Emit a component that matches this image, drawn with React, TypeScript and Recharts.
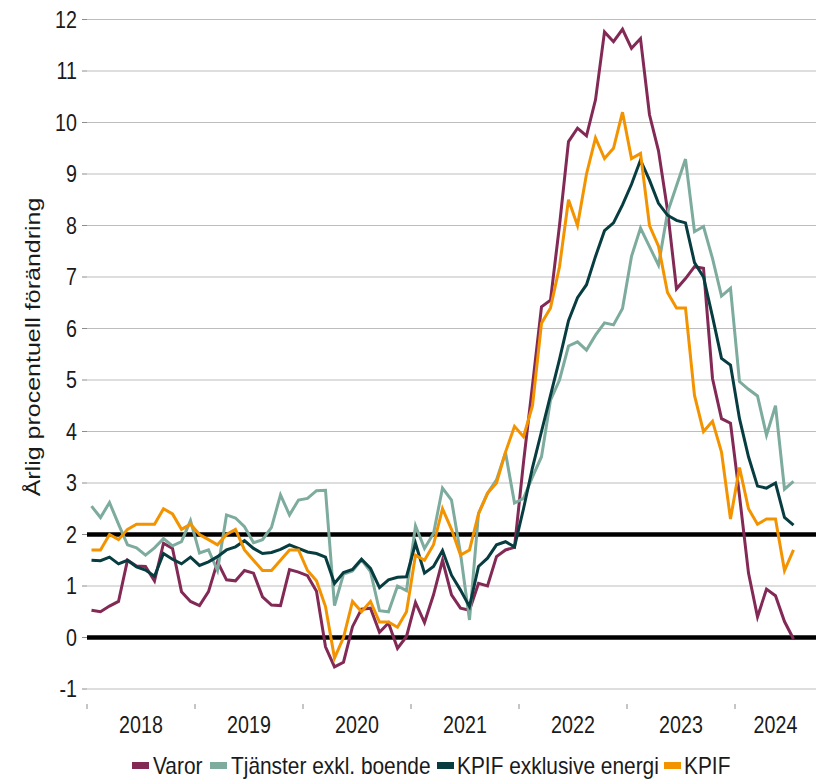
import React from 'react'
import { LineChart, Line, XAxis, YAxis, CartesianGrid, ReferenceLine } from 'recharts'

// monthly, Jan 2018 – Jul 2024, årlig procentuell förändring
const years = ['2018', '2019', '2020', '2021', '2022', '2023', '2024']
const monthNames = ['01', '02', '03', '04', '05', '06', '07', '08', '09', '10', '11', '12']

const varor = [
  0.53, 0.5, 0.61, 0.7, 1.5, 1.39, 1.38, 1.1, 1.83, 1.73, 0.89, 0.7,
  0.62, 0.89, 1.47, 1.12, 1.1, 1.3, 1.25, 0.79, 0.63, 0.62, 1.32, 1.27,
  1.2, 0.9, -0.18, -0.57, -0.48, 0.21, 0.55, 0.57, 0.1, 0.28, -0.21, 0.02,
  0.68, 0.29, 0.83, 1.5, 0.83, 0.57, 0.53, 1.05, 1.0, 1.57, 1.7, 1.75,
  3.4, 4.9, 6.42, 6.55, 8.0, 9.63, 9.89, 9.74, 10.44, 11.76, 11.57, 11.81,
  11.44, 11.63, 10.15, 9.45, 8.3, 6.77, 6.97, 7.2, 7.17, 5.03, 4.25, 4.16,
  2.75, 1.25, 0.4, 0.94, 0.81, 0.31, -0.03,
]

const tjanster = [
  2.55, 2.33, 2.62, 2.2, 1.8, 1.74, 1.6, 1.74, 1.92, 1.78, 1.86, 2.27,
  1.64, 1.7, 1.3, 2.38, 2.32, 2.15, 1.84, 1.9, 2.14, 2.77, 2.38, 2.67,
  2.7, 2.85, 2.86, 0.62, 1.23, 1.29, 1.51, 1.28, 0.52, 0.5, 1.0, 0.91,
  2.17, 1.73, 2.02, 2.9, 2.67, 1.63, 0.34, 2.41, 2.8, 3.06, 3.59, 2.61,
  2.7, 3.12, 3.51, 4.61, 5.0, 5.66, 5.74, 5.58, 5.87, 6.11, 6.07, 6.39,
  7.4, 7.95, 7.59, 7.23, 8.25, 8.77, 9.29, 7.88, 7.98, 7.36, 6.63, 6.78,
  4.97, 4.82, 4.69, 3.93, 4.5, 2.88, 3.03,
]

const kpifXe = [
  1.5, 1.49, 1.56, 1.43, 1.5, 1.37, 1.31, 1.19, 1.63, 1.52, 1.43, 1.56,
  1.4, 1.47, 1.57, 1.7, 1.76, 1.88, 1.73, 1.63, 1.65, 1.71, 1.8, 1.73,
  1.66, 1.63, 1.56, 1.05, 1.26, 1.32, 1.52, 1.34, 0.97, 1.12, 1.17, 1.18,
  1.83, 1.25, 1.38, 1.69, 1.21, 0.92, 0.6, 1.38, 1.54, 1.8, 1.86, 1.76,
  2.5, 3.3, 4.0, 4.7, 5.4, 6.15, 6.6, 6.85, 7.4, 7.9, 8.05, 8.4,
  8.8, 9.27, 8.88, 8.43, 8.2, 8.1, 8.05, 7.28, 7.0, 6.23, 5.42, 5.29,
  4.25, 3.51, 2.94, 2.9, 3.0, 2.33, 2.18,
]

const kpif = [
  1.7, 1.7, 2.0, 1.9, 2.1, 2.2, 2.2, 2.2, 2.5, 2.4, 2.1, 2.2,
  2.0, 1.9, 1.8, 2.0, 2.1, 1.7, 1.5, 1.3, 1.3, 1.5, 1.7, 1.7,
  1.3, 1.1, 0.6, -0.4, 0.0, 0.7, 0.5, 0.7, 0.3, 0.3, 0.2, 0.5,
  1.6, 1.5, 1.8, 2.5, 2.1, 1.6, 1.7, 2.4, 2.8, 3.0, 3.6, 4.1,
  3.9, 4.5, 6.1, 6.4, 7.2, 8.5, 8.0, 9.0, 9.7, 9.3, 9.5, 10.2,
  9.3, 9.4, 8.0, 7.6, 6.7, 6.4, 6.4, 4.7, 4.0, 4.2, 3.6, 2.3,
  3.3, 2.5, 2.2, 2.3, 2.3, 1.3, 1.7,
]

// axis runs to Sep 2024 (81 months)
const months = years.flatMap(y => monthNames.map(m => `${y}-${m}`)).slice(0, 81)

const yTicks = [-1, 0, 1, 2, 3, 4, 5, 6, 7, 8, 9, 10, 11, 12]
const yearBoundaries = [0, 12, 24, 36, 48, 60, 72]
const yearCenters = [6, 18, 30, 42, 54, 66, 76.5]

const series = [
  { key: 'varor', name: 'Varor', color: '#822a55', values: varor },
  { key: 'tjanster', name: 'Tjänster exkl. boende', color: '#7dab9d', values: tjanster },
  { key: 'kpifXe', name: 'KPIF exklusive energi', color: '#073d40', values: kpifXe },
  { key: 'kpif', name: 'KPIF', color: '#f39300', values: kpif },
]

const data = months.map((m, i) => {
  const row: any = { x: i + 0.5, month: m }
  series.forEach(s => { row[s.key] = s.values[i] ?? null })
  return row
})

const FONT = "'Liberation Sans', Arial, sans-serif"
const SX = 0.82

const XTick = ({ x, y, payload }: any) => {
  const k = yearCenters.indexOf(payload.value)
  if (k < 0) {
    return <line x1={x} x2={x} y1={y + 15} y2={y + 20} stroke="#8c8c8c" strokeWidth={1} />
  }
  return (
    <text transform={`translate(${x},${y + 44}) scale(${SX},1)`} textAnchor="middle"
      fontSize={24} fontFamily={FONT} fill="#1a1a1a">
      {years[k]}
    </text>
  )
}

const YTick = ({ x, y, payload }: any) => (
  <text transform={`translate(${x},${y}) scale(${SX},1)`} textAnchor="end" dominantBaseline="central"
    fontSize={24} fontFamily={FONT} fill="#1a1a1a">
    {payload.value}
  </text>
)

const YLabel = () => (
  <text transform={`translate(33,347) rotate(-90) scale(1,${SX})`} textAnchor="middle" dominantBaseline="central"
    fontSize={25} fontFamily={FONT} fill="#1a1a1a">
    Årlig procentuell förändring
  </text>
)

// legend: swatch x, text x
const legendPos = [[132, 153], [210, 231], [437, 457], [664, 684]]

export default function App() {
  return (
    <div style={{ position: 'relative', width: 820, height: 780, background: '#fff', overflow: 'hidden' }}>
      <style>{'body{margin:0}'}</style>
      <LineChart width={820} height={780} data={data} margin={{ top: 19.5, right: 4, bottom: 31, left: 0 }}>
        <CartesianGrid vertical={false} stroke="#bdbdbd" strokeWidth={1} />
        <XAxis dataKey="x" type="number" domain={[0, 81]} ticks={[...yearBoundaries, ...yearCenters].sort((a, b) => a - b)}
          interval={0} tick={<XTick />} tickLine={false} tickSize={0} tickMargin={0} axisLine={false} height={60} />
        <YAxis domain={[-1, 12]} ticks={yTicks} interval={0} width={87} axisLine={false}
          tickLine={{ stroke: '#8c8c8c' }} tickSize={5} tickMargin={5} tick={<YTick />} label={<YLabel />} />
        <ReferenceLine y={0} stroke="#000" strokeWidth={4.5} />
        <ReferenceLine y={2} stroke="#000" strokeWidth={4.5} />
        {series.map(s => (
          <Line key={s.key} dataKey={s.key} name={s.name} type="linear" stroke={s.color} strokeWidth={3}
            dot={false} isAnimationActive={false} />
        ))}
      </LineChart>
      <svg width={820} height={36} style={{ position: 'absolute', left: 0, top: 744 }}>
        {series.map((s, i) => (
          <g key={s.key}>
            <rect x={legendPos[i][0]} y={18} width={17} height={7} fill={s.color} />
            <text transform={`translate(${legendPos[i][1]},21.5) scale(0.87,1)`} dominantBaseline="central"
              fontSize={24} fontFamily={FONT} fill="#1a1a1a">
              {s.name}
            </text>
          </g>
        ))}
      </svg>
    </div>
  )
}
